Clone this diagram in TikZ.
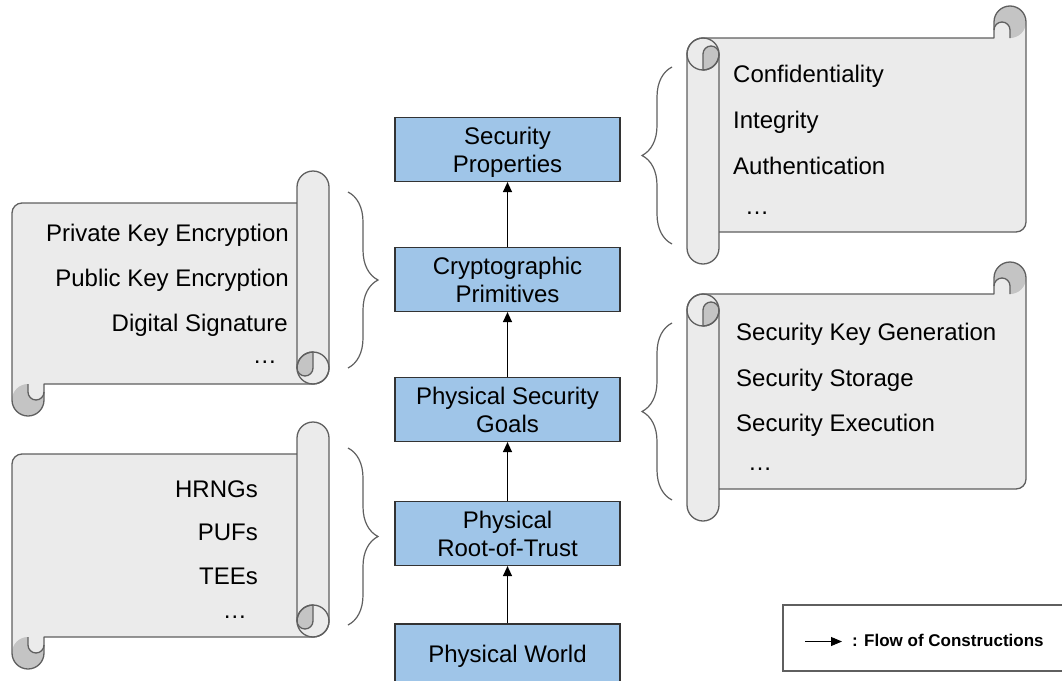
\documentclass[tikz,border=0pt]{standalone}
\usepackage{fontspec}
\setmainfont{Liberation Sans}
\usepackage{tikz}
\usetikzlibrary{arrows.meta,decorations.pathreplacing}
\definecolor{boxblue}{HTML}{9FC5E8}
\definecolor{scrollfill}{HTML}{EBEBEB}
\definecolor{curlfill}{HTML}{C4C4C4}
\definecolor{edgegray}{HTML}{5F5F5F}
\newcommand{\rollr}{16}
\newcommand{\edgewidth}{1.3pt}
\newcommand{\ls}{\rule[-5.1pt]{0pt}{28.1pt}}
\newcommand{\drawscroll}[2]{%
\fill[scrollfill] (#1-2*\rollr,0) -- (10,0) arc (90:180:10) -- (0,-#2-\rollr) arc (180:360:\rollr) -- (2*\rollr,-#2) -- (#1-\rollr,-#2) arc (270:360:\rollr) -- (#1,\rollr) arc (0:180:\rollr) -- cycle;
\fill[curlfill] (\rollr,-#2-\rollr) circle (\rollr);
\fill[scrollfill] (\rollr,-#2) -- (\rollr,-#2-\rollr/2) arc (180:360:\rollr/2) -- (2*\rollr,-#2) -- cycle;
\fill[curlfill] (#1-\rollr,-#2+2*\rollr) arc (90:180:\rollr) arc (180:360:\rollr/2) -- cycle;
\draw[paperedge] (#1-2*\rollr,0) -- (10,0) arc (90:180:10) -- (0,-#2-\rollr) arc (180:360:\rollr) -- (2*\rollr,-#2) -- (#1-\rollr,-#2) arc (270:360:\rollr) -- (#1,\rollr) arc (0:180:\rollr) -- (#1-2*\rollr,-#2+\rollr);
\draw[paperedge] (#1-\rollr,-#2+\rollr) circle (\rollr);
\draw[paperedge] (#1-\rollr,-#2+2*\rollr) arc (90:180:\rollr) arc (180:360:\rollr/2) -- cycle;
\draw[paperedge] (\rollr,-#2) -- (\rollr,-#2-\rollr/2) arc (180:360:\rollr/2);
}
\tikzset{
  layer/.style={draw=black!80, fill=boxblue, line width=1.2pt, minimum width=225pt, minimum height=64pt, inner sep=0pt, align=center, font=\fontsize{24}{28.2}\selectfont},
  flow/.style={-{Triangle[length=10pt,width=9pt]}, line width=1.3pt},
  item/.style={font=\fontsize{24}{28}\selectfont, inner sep=0pt},
  paperedge/.style={draw=edgegray, line width=\edgewidth, line join=round},
  bracket/.style={draw=edgegray, line width=1.2pt, decorate, decoration={brace, amplitude=30pt}},
}

\begin{document}
\begin{tikzpicture}[x=1pt,y=1pt]
\useasboundingbox (0,0) rectangle (1062,-680);
\clip (0,0) rectangle (1062,-680);
%scrolls
\begin{scope}[shift={(12,-203)}]
\drawscroll{317}{181}
\end{scope}
\begin{scope}[shift={(12,-454)}]
\drawscroll{317}{183}
\end{scope}
\begin{scope}[shift={(1026,-232)},rotate=180]
\drawscroll{339}{194}
\end{scope}
\begin{scope}[shift={(1026,-489)},rotate=180]
\drawscroll{339}{195}
\end{scope}
%braces
\draw[bracket] (672,-244) -- (672,-67);
\draw[bracket] (672,-500) -- (672,-323);
\draw[bracket] (348,-192) -- (348,-368);
\draw[bracket] (348,-448) -- (348,-625);
%layers
\node[layer] (1) at (507.5,-656) {Physical World};
\node[layer] (2) at (507.5,-533.5) {\ls Physical\\\ls Root-of-Trust};
\node[layer] (3) at (507.5,-409.5) {\ls Physical Security\\\ls Goals};
\node[layer] (4) at (507.5,-279.5) {\ls Cryptographic\\\ls Primitives};
\node[layer] (5) at (507.5,-149.5) {\ls Security\\\ls Properties};
\draw[flow] (1) -- (2);
\draw[flow] (2) -- (3);
\draw[flow] (3) -- (4);
\draw[flow] (4) -- (5);
%properties
\node[item, anchor=base west] (p1) at (733,-82) {Confidentiality};
\node[item, anchor=base west] (p2) at (733,-128.5) {Integrity};
\node[item, anchor=base west] (p3) at (733,-174.5) {Authentication};
\node[item, anchor=base west] (p4) at (745,-214) {…};
%goals
\node[item, anchor=base west] (g1) at (736,-340.5) {Security Key Generation};
\node[item, anchor=base west] (g2) at (736,-386.5) {Security Storage};
\node[item, anchor=base west] (g3) at (736,-431.5) {Security Execution};
\node[item, anchor=base west] (g4) at (748,-470) {…};
%primitives
\node[item, anchor=base east] (c1) at (289,-241.5) {Private Key Encryption};
\node[item, anchor=base east] (c2) at (289,-286.5) {Public Key Encryption};
\node[item, anchor=base east] (c3) at (288,-331.5) {Digital Signature};
\node[item, anchor=base east] (c4) at (277,-363) {…};
%roots
\node[item, anchor=base east] (r1) at (258,-497.5) {HRNGs};
\node[item, anchor=base east] (r2) at (258,-540.5) {PUFs};
\node[item, anchor=base east] (r3) at (258,-584) {TEEs};
\node[item, anchor=base east] (r4) at (247,-618) {…};
%legend
\node[draw=edgegray, line width=1.2pt, minimum width=300pt, minimum height=66pt, inner sep=0pt] (legend) at (933,-638) {};
\coordinate (la) at (805,-641.5);
\coordinate (lb) at (842,-641.5);
\draw[-{Triangle[length=11pt,width=9pt]}, line width=1pt] (la) -- (lb);
\node[anchor=west, inner sep=0pt, font=\fontsize{17}{20}\selectfont\bfseries] (lt) at (852,-640) {: Flow of Constructions};
\end{tikzpicture}
\end{document}
